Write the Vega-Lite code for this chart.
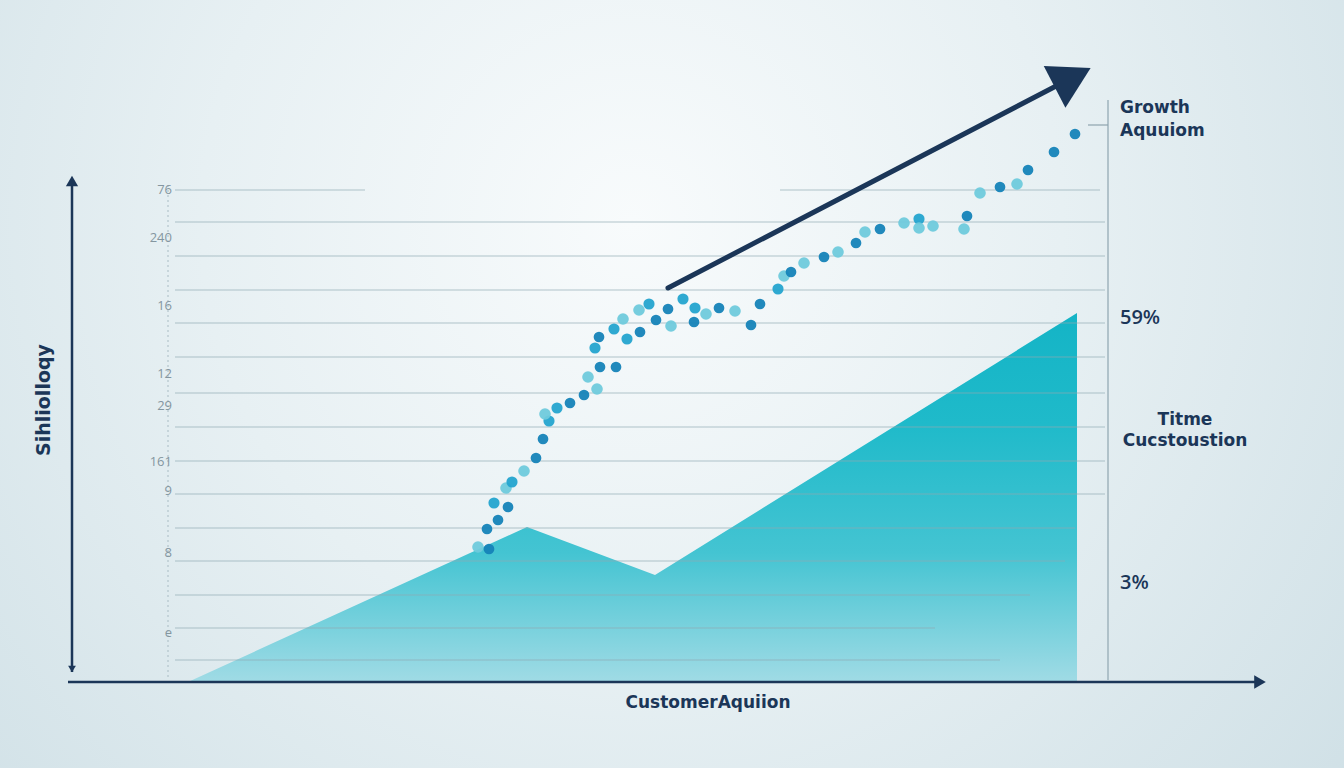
{
  "$schema": "https://vega.github.io/schema/vega-lite/v6.json",
  "width": 1344,
  "height": 768,
  "autosize": {"type": "fit", "contains": "padding"},
  "padding": 0,
  "background": "#d6e5eb",
  "config": {"view": {"stroke": null}},
  "datasets": {
    "bg": [{"x0": -7.2, "x1": 127.2, "y0": -17.2, "y1": 136.4}],
    "area": [
      {"t": 11.6, "v": 0},
      {"t": 45.5, "v": 31},
      {"t": 58.3, "v": 21.4},
      {"t": 100.5, "v": 73.8}
    ],
    "grid": [
      {"x0": 10.3, "x1": 29.3, "y": 98.4},
      {"x0": 70.8, "x1": 102.8, "y": 98.4},
      {"x0": 10.3, "x1": 103.3, "y": 92.0},
      {"x0": 10.3, "x1": 103.3, "y": 85.2},
      {"x0": 10.3, "x1": 103.3, "y": 78.4},
      {"x0": 10.3, "x1": 103.3, "y": 71.8},
      {"x0": 10.3, "x1": 103.3, "y": 65.0},
      {"x0": 10.3, "x1": 103.3, "y": 57.8},
      {"x0": 10.3, "x1": 103.3, "y": 51.0},
      {"x0": 10.3, "x1": 103.3, "y": 44.2},
      {"x0": 10.3, "x1": 103.3, "y": 37.6},
      {"x0": 10.3, "x1": 100.3, "y": 30.8},
      {"x0": 10.3, "x1": 99.3, "y": 24.2},
      {"x0": 10.3, "x1": 95.8, "y": 17.4},
      {"x0": 10.3, "x1": 86.3, "y": 10.8},
      {"x0": 10.3, "x1": 92.8, "y": 4.4}
    ],
    "points": [
      {"t": 40.6, "v": 27.0, "s": "light"},
      {"t": 41.7, "v": 26.6, "s": "dark"},
      {"t": 41.5, "v": 30.6, "s": "dark"},
      {"t": 42.6, "v": 32.4, "s": "dark"},
      {"t": 43.6, "v": 35.0, "s": "dark"},
      {"t": 42.2, "v": 35.8, "s": "mid"},
      {"t": 43.4, "v": 38.8, "s": "light"},
      {"t": 44.0, "v": 40.0, "s": "mid"},
      {"t": 45.2, "v": 42.2, "s": "light"},
      {"t": 46.4, "v": 44.8, "s": "dark"},
      {"t": 47.1, "v": 48.6, "s": "dark"},
      {"t": 47.7, "v": 52.2, "s": "mid"},
      {"t": 47.3, "v": 53.6, "s": "light"},
      {"t": 48.5, "v": 54.8, "s": "mid"},
      {"t": 49.8, "v": 55.8, "s": "dark"},
      {"t": 51.2, "v": 57.4, "s": "dark"},
      {"t": 52.5, "v": 58.6, "s": "light"},
      {"t": 51.6, "v": 61.0, "s": "light"},
      {"t": 52.8, "v": 63.0, "s": "dark"},
      {"t": 54.4, "v": 63.0, "s": "dark"},
      {"t": 52.3, "v": 66.8, "s": "mid"},
      {"t": 52.7, "v": 69.0, "s": "dark"},
      {"t": 54.2, "v": 70.6, "s": "mid"},
      {"t": 55.5, "v": 68.6, "s": "mid"},
      {"t": 55.1, "v": 72.6, "s": "light"},
      {"t": 56.8, "v": 70.0, "s": "dark"},
      {"t": 56.7, "v": 74.4, "s": "light"},
      {"t": 57.7, "v": 75.6, "s": "mid"},
      {"t": 58.4, "v": 72.4, "s": "dark"},
      {"t": 59.6, "v": 74.6, "s": "dark"},
      {"t": 59.9, "v": 71.2, "s": "light"},
      {"t": 61.1, "v": 76.6, "s": "mid"},
      {"t": 62.3, "v": 74.8, "s": "mid"},
      {"t": 62.2, "v": 72.0, "s": "dark"},
      {"t": 63.4, "v": 73.6, "s": "light"},
      {"t": 64.7, "v": 74.8, "s": "dark"},
      {"t": 66.3, "v": 74.2, "s": "light"},
      {"t": 67.9, "v": 71.4, "s": "dark"},
      {"t": 68.8, "v": 75.6, "s": "dark"},
      {"t": 70.6, "v": 78.6, "s": "mid"},
      {"t": 71.2, "v": 81.2, "s": "light"},
      {"t": 71.9, "v": 82.0, "s": "dark"},
      {"t": 73.2, "v": 83.8, "s": "light"},
      {"t": 75.2, "v": 85.0, "s": "dark"},
      {"t": 76.6, "v": 86.0, "s": "light"},
      {"t": 78.4, "v": 87.8, "s": "dark"},
      {"t": 79.3, "v": 90.0, "s": "light"},
      {"t": 80.8, "v": 90.6, "s": "dark"},
      {"t": 83.2, "v": 91.8, "s": "light"},
      {"t": 84.7, "v": 92.6, "s": "mid"},
      {"t": 84.7, "v": 90.8, "s": "light"},
      {"t": 86.1, "v": 91.2, "s": "light"},
      {"t": 89.2, "v": 90.6, "s": "light"},
      {"t": 89.5, "v": 93.2, "s": "dark"},
      {"t": 90.8, "v": 97.8, "s": "light"},
      {"t": 92.8, "v": 99.0, "s": "dark"},
      {"t": 94.5, "v": 99.6, "s": "light"},
      {"t": 95.6, "v": 102.4, "s": "dark"},
      {"t": 98.2, "v": 106.0, "s": "dark"},
      {"t": 100.3, "v": 109.6, "s": "dark"}
    ],
    "ticklabels": [
      {"t": 10.0, "v": 98.4, "label": "76"},
      {"t": 10.0, "v": 88.8, "label": "240"},
      {"t": 10.0, "v": 75.2, "label": "16"},
      {"t": 10.0, "v": 61.6, "label": "12"},
      {"t": 10.0, "v": 55.2, "label": "29"},
      {"t": 10.0, "v": 44.0, "label": "161"},
      {"t": 10.0, "v": 38.2, "label": "9"},
      {"t": 10.0, "v": 25.8, "label": "8"},
      {"t": 10.0, "v": 9.8, "label": "e"}
    ],
    "sidelabels": [
      {"t": 104.8, "v": 114.8, "label": "Growth"},
      {"t": 104.8, "v": 110.2, "label": "Aquuiom"}
    ],
    "centerlabels": [
      {"t": 111.3, "v": 52.4, "label": "Titme"},
      {"t": 111.3, "v": 48.2, "label": "Cucstoustion"}
    ],
    "percents": [
      {"t": 104.8, "v": 72.8, "label": "59%"},
      {"t": 104.8, "v": 19.8, "label": "3%"}
    ]
  },
  "layer": [
    {
      "data": {"name": "bg"},
      "mark": {
        "type": "rect",
        "fill": {
          "gradient": "radial",
          "x1": 0.47, "y1": 0.38, "r1": 0,
          "x2": 0.47, "y2": 0.38, "r2": 0.8,
          "stops": [
            {"offset": 0, "color": "#f8fbfc"},
            {"offset": 0.4, "color": "#e7f0f3"},
            {"offset": 1, "color": "#c8dbe2"}
          ]
        }
      },
      "encoding": {
        "x": {"field": "x0", "type": "quantitative", "scale": {"domain": [-7.2, 127.2], "nice": false, "zero": false}, "axis": null},
        "x2": {"field": "x1"},
        "y": {"field": "y0", "type": "quantitative", "scale": {"domain": [-17.2, 136.4], "nice": false, "zero": false}, "axis": null},
        "y2": {"field": "y1"}
      }
    },
    {
      "data": {"name": "area"},
      "mark": {
        "type": "area",
        "fill": {
          "gradient": "linear",
          "x1": 0, "y1": 0, "x2": 0, "y2": 1,
          "stops": [
            {"offset": 0, "color": "#14b4c6"},
            {"offset": 0.3, "color": "#1fbaca"},
            {"offset": 0.65, "color": "#44c4d2"},
            {"offset": 1, "color": "#a0dbe5"}
          ]
        }
      },
      "encoding": {
        "x": {"field": "t", "type": "quantitative"},
        "y": {"field": "v", "type": "quantitative", "stack": null},
        "y2": {"datum": 0}
      }
    },
    {
      "data": {"name": "grid"},
      "mark": {"type": "rule", "stroke": "#8fa8b2", "strokeOpacity": 0.45, "strokeWidth": 1.5},
      "encoding": {
        "x": {"field": "x0", "type": "quantitative"},
        "x2": {"field": "x1"},
        "y": {"field": "y", "type": "quantitative"}
      }
    },
    {
      "data": {"name": "bg"},
      "mark": {"type": "rule", "stroke": "#a9bcc4", "strokeWidth": 1, "strokeDash": [2, 3]},
      "encoding": {
        "x": {"datum": 9.6, "type": "quantitative"},
        "y": {"datum": 99.4, "type": "quantitative"},
        "y2": {"datum": 0.4}
      }
    },
    {
      "data": {"name": "bg"},
      "mark": {"type": "rule", "stroke": "#9fb3bc", "strokeWidth": 1.5},
      "encoding": {
        "x": {"datum": 103.6, "type": "quantitative"},
        "y": {"datum": 116.4, "type": "quantitative"},
        "y2": {"datum": 0.4}
      }
    },
    {
      "data": {"name": "bg"},
      "mark": {"type": "rule", "stroke": "#8ea3ad", "strokeWidth": 1.2},
      "encoding": {
        "x": {"datum": 101.6, "type": "quantitative"},
        "x2": {"datum": 103.6},
        "y": {"datum": 111.4, "type": "quantitative"}
      }
    },
    {
      "data": {"name": "bg"},
      "mark": {"type": "rule", "stroke": "#1b3658", "strokeWidth": 2.5},
      "encoding": {
        "x": {"datum": 0, "type": "quantitative"},
        "y": {"datum": 100.0, "type": "quantitative"},
        "y2": {"datum": 2.0}
      }
    },
    {
      "data": {"name": "bg"},
      "mark": {"type": "rule", "stroke": "#1b3658", "strokeWidth": 2.5},
      "encoding": {
        "x": {"datum": -0.4, "type": "quantitative"},
        "x2": {"datum": 118.6},
        "y": {"datum": 0, "type": "quantitative"}
      }
    },
    {
      "data": {"name": "bg"},
      "mark": {"type": "point", "shape": "triangle-up", "filled": true, "color": "#1b3658", "size": 150, "opacity": 1},
      "encoding": {
        "x": {"datum": 0, "type": "quantitative"},
        "y": {"datum": 100.2, "type": "quantitative"}
      }
    },
    {
      "data": {"name": "bg"},
      "mark": {"type": "point", "shape": "triangle-down", "filled": true, "color": "#1b3658", "size": 60, "opacity": 1},
      "encoding": {
        "x": {"datum": 0, "type": "quantitative"},
        "y": {"datum": 2.6, "type": "quantitative"}
      }
    },
    {
      "data": {"name": "bg"},
      "mark": {"type": "point", "shape": "triangle-right", "filled": true, "color": "#1b3658", "size": 180, "opacity": 1},
      "encoding": {
        "x": {"datum": 118.8, "type": "quantitative"},
        "y": {"datum": 0, "type": "quantitative"}
      }
    },
    {
      "data": {"name": "points"},
      "mark": {"type": "circle", "opacity": 0.95},
      "encoding": {
        "x": {"field": "t", "type": "quantitative"},
        "y": {"field": "v", "type": "quantitative"},
        "color": {"field": "s", "type": "nominal", "scale": {"domain": ["dark", "mid", "light"], "range": ["#1583b8", "#24a4cf", "#6fcadc"]}, "legend": null},
        "size": {"field": "s", "type": "nominal", "scale": {"domain": ["dark", "mid", "light"], "range": [115, 135, 170]}, "legend": null}
      }
    },
    {
      "data": {"name": "bg"},
      "mark": {"type": "rule", "stroke": "#1b3658", "strokeWidth": 5, "strokeCap": "round"},
      "encoding": {
        "x": {"datum": 59.6, "type": "quantitative"},
        "x2": {"datum": 98.8},
        "y": {"datum": 78.8, "type": "quantitative"},
        "y2": {"datum": 119.6}
      }
    },
    {
      "data": {"name": "bg"},
      "mark": {"type": "point", "shape": "triangle-up", "filled": true, "color": "#1b3658", "size": 2200, "angle": 62.5, "opacity": 1},
      "encoding": {
        "x": {"datum": 100.06, "type": "quantitative"},
        "y": {"datum": 120.9, "type": "quantitative"}
      }
    },
    {
      "data": {"name": "ticklabels"},
      "mark": {"type": "text", "align": "right", "baseline": "middle", "font": "Open Sans", "fontSize": 13, "color": "#8496a0"},
      "encoding": {
        "x": {"field": "t", "type": "quantitative"},
        "y": {"field": "v", "type": "quantitative"},
        "text": {"field": "label"}
      }
    },
    {
      "data": {"name": "sidelabels"},
      "mark": {"type": "text", "align": "left", "baseline": "middle", "font": "DejaVu Sans", "fontSize": 17, "fontWeight": "bold", "color": "#1b3658"},
      "encoding": {
        "x": {"field": "t", "type": "quantitative"},
        "y": {"field": "v", "type": "quantitative"},
        "text": {"field": "label"}
      }
    },
    {
      "data": {"name": "centerlabels"},
      "mark": {"type": "text", "align": "center", "baseline": "middle", "font": "DejaVu Sans", "fontSize": 17, "fontWeight": "bold", "color": "#1b3658"},
      "encoding": {
        "x": {"field": "t", "type": "quantitative"},
        "y": {"field": "v", "type": "quantitative"},
        "text": {"field": "label"}
      }
    },
    {
      "data": {"name": "percents"},
      "mark": {"type": "text", "align": "left", "baseline": "middle", "font": "Open Sans", "fontSize": 20, "fontWeight": 600, "color": "#1b3658"},
      "encoding": {
        "x": {"field": "t", "type": "quantitative"},
        "y": {"field": "v", "type": "quantitative"},
        "text": {"field": "label"}
      }
    },
    {
      "data": {"name": "bg"},
      "mark": {"type": "text", "align": "center", "baseline": "middle", "font": "DejaVu Sans", "fontSize": 17, "fontWeight": "bold", "color": "#1b3658", "text": "CustomerAquiion"},
      "encoding": {
        "x": {"datum": 63.6, "type": "quantitative"},
        "y": {"datum": -4.2, "type": "quantitative"}
      }
    },
    {
      "data": {"name": "bg"},
      "mark": {"type": "text", "align": "center", "baseline": "middle", "angle": 270, "font": "DejaVu Sans", "fontSize": 19, "fontWeight": "bold", "color": "#1b3658", "text": "Sihliolloqy"},
      "encoding": {
        "x": {"datum": -2.8, "type": "quantitative"},
        "y": {"datum": 56.4, "type": "quantitative"}
      }
    }
  ]
}
